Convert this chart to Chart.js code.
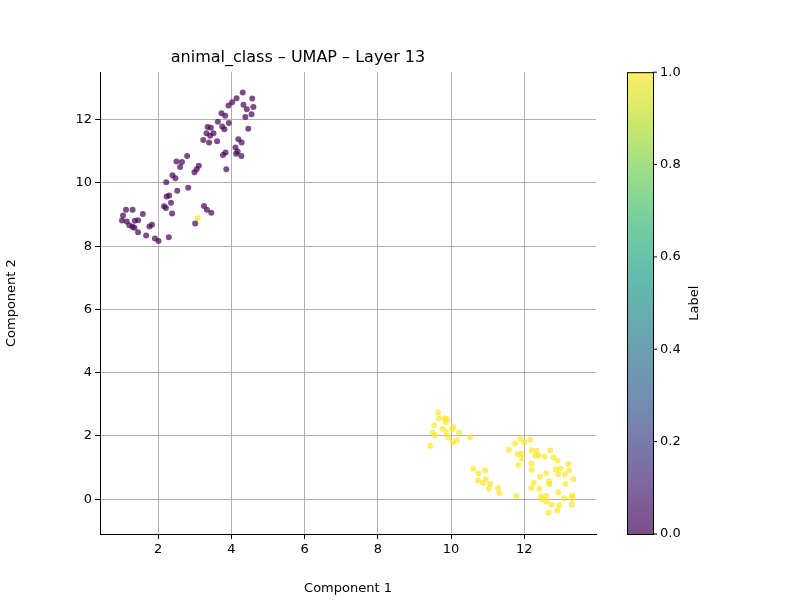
<!DOCTYPE html>
<html>
<head>
<meta charset="utf-8">
<script src="https://cdn.jsdelivr.net/npm/chart.js@4"></script>
<style>body{margin:0;background:#fff}</style>
</head>
<body>
<canvas id="c" width="800" height="600"></canvas>
<script>
const xTicks = [2, 4, 6, 8, 10, 12];
const yTicks = [0, 2, 4, 6, 8, 10, 12];
const cbarTicks = ['0.0', '0.2', '0.4', '0.6', '0.8', '1.0'];

// label 0 (purple)
const class0 = [[4.31,12.86],[4.14,12.68],[4.57,12.67],[3.92,12.45],[4.02,12.55],[4.33,12.47],[4.42,12.33],[4.6,12.4],
[4.55,12.17],[4.38,12.08],[3.73,12.2],[3.83,12.12],[3.63,11.93],[3.93,11.89],[3.75,11.78],[3.81,11.7],[3.35,11.77],
[3.44,11.74],[4.46,11.71],[3.32,11.57],[3.51,11.57],[3.42,11.49],[3.23,11.36],[3.39,11.28],[3.61,11.32],[4.19,11.38],
[4.28,11.28],[4.11,11.12],[4.17,10.99],[3.84,10.96],[3.77,10.88],[4.13,10.92],[4.27,10.85],[3.86,10.43],[2.79,10.85],
[2.5,10.68],[2.65,10.66],[2.6,10.5],[3.11,10.54],[3.05,10.43],[2.99,10.34],[2.39,10.24],[2.47,10.15],[2.22,10.02],
[2.82,9.85],[2.52,9.75],[2.3,9.6],[2.23,9.57],[2.35,9.37],[2.16,9.26],[2.21,9.21],[2.38,9.03],[3.25,9.27],[3.33,9.15],
[3.45,9.06],[3.01,8.72],[1.12,9.15],[1.3,9.15],[1.04,8.97],[1.58,9.02],[1.01,8.81],[1.14,8.78],[1.36,8.8],[1.45,8.82],
[1.21,8.66],[1.3,8.61],[1.35,8.58],[1.83,8.68],[1.76,8.62],[1.45,8.44],[1.67,8.34],[1.91,8.24],[2.01,8.16],[2.29,8.28]];

// label 1 (yellow)
const class1 = [[3.08,8.89],[9.65,2.74],[9.67,2.55],[9.83,2.56],[9.89,2.53],[9.86,2.44],[9.54,2.34],[9.77,2.22],[9.87,2.12],
[10.06,2.28],[10.03,2.21],[10.22,2.11],[9.5,2.1],[9.56,2.02],[9.92,1.95],[10.16,1.86],[10.05,1.8],[10.52,1.97],[9.43,1.69],
[11.89,1.92],[12.16,1.88],[12.0,1.8],[11.75,1.76],[11.58,1.56],[11.82,1.42],[11.93,1.44],[11.94,1.28],[11.84,1.08],
[12.2,1.55],[12.34,1.53],[12.3,1.37],[12.39,1.38],[12.56,1.34],[12.71,1.54],[12.8,1.32],[12.9,1.22],[12.2,1.13],
[13.21,1.11],[12.2,0.92],[12.86,0.94],[12.99,0.97],[13.22,0.91],[12.6,0.82],[12.93,0.79],[13.11,0.79],[12.43,0.71],
[13.34,0.63],[12.68,0.57],[12.26,0.52],[12.69,0.47],[13.12,0.48],[12.19,0.35],[12.41,0.33],[12.93,0.21],[12.45,0.09],
[12.6,0.1],[12.49,0],[13.31,0.12],[13.31,0.03],[13.1,0.03],[12.61,-0.07],[12.75,-0.17],[12.96,-0.19],[13.3,-0.17],
[12.9,-0.36],[12.66,-0.43],[11.78,0.1],[10.61,0.96],[10.75,0.82],[10.93,0.91],[10.74,0.59],[10.87,0.51],[10.95,0.63],
[11.07,0.48],[11.03,0.33],[11.28,0.35],[11.32,0.2]];

const viridis = ['#440154','#482878','#3e4989','#31688e','#26828e','#1f9e89','#35b779','#6ece58','#b5de2b','#fde725'];

const toPts = a => a.map(p => ({x: p[0], y: p[1]}));

const colorbar = {
  id: 'colorbar',
  afterDraw(chart) {
    const ctx = chart.ctx, a = chart.chartArea;
    const x0 = 627, w = 26, top = a.top, bot = a.bottom;
    const g = ctx.createLinearGradient(0, bot, 0, top);
    viridis.forEach((c, i) => g.addColorStop(i / (viridis.length - 1), c));
    ctx.save();
    ctx.fillStyle = '#fff';
    ctx.fillRect(x0, top, w, bot - top);
    ctx.globalAlpha = 0.7;
    ctx.fillStyle = g;
    ctx.fillRect(x0, top, w, bot - top);
    ctx.globalAlpha = 1;
    ctx.strokeStyle = '#000';
    ctx.lineWidth = 1;
    ctx.strokeRect(x0 + 0.5, top + 0.5, w, bot - top);
    ctx.fillStyle = '#000';
    ctx.font = '13px "DejaVu Sans"';
    ctx.textBaseline = 'middle';
    cbarTicks.forEach((t, i) => {
      const y = bot - (bot - top) * i / (cbarTicks.length - 1);
      ctx.beginPath(); ctx.moveTo(x0 + w, y); ctx.lineTo(x0 + w + 4, y); ctx.stroke();
      ctx.fillText(t, x0 + w + 7, y);
    });
    ctx.translate(695, (top + bot) / 2);
    ctx.rotate(-Math.PI / 2);
    ctx.textAlign = 'center';
    ctx.fillText('Label', 0, 0);
    ctx.restore();
  }
};

const tickFont = {family: 'DejaVu Sans', size: 13};

new Chart(document.getElementById('c'), {
  type: 'scatter',
  data: {
    datasets: [
      {data: toPts(class0), backgroundColor: 'rgba(68,1,84,0.7)', borderWidth: 0, pointRadius: 3},
      {data: toPts(class1), backgroundColor: 'rgba(253,231,37,0.7)', borderWidth: 0, pointRadius: 3}
    ]
  },
  options: {
    responsive: false,
    animation: false,
    devicePixelRatio: 1,
    layout: {padding: {right: 204, left: 0, top: 0, bottom: 0}},
    plugins: {
      legend: {display: false},
      tooltip: {enabled: false},
      title: {display: true, text: 'animal_class – UMAP – Layer 13', color: '#000',
        font: {family: 'DejaVu Sans', size: 16, weight: 'normal'}, padding: {top: 48, bottom: 5}}
    },
    scales: {
      x: {
        type: 'linear', min: 0.41, max: 13.96,
        afterBuildTicks: s => { s.ticks = xTicks.map(v => ({value: v})); },
        afterFit: s => { s.height = 66; },
        ticks: {color: '#000', font: tickFont, maxRotation: 0},
        grid: {color: '#b0b0b0', tickColor: '#000', tickLength: 5},
        border: {color: '#000'},
        title: {display: true, text: 'Component 1', color: '#000', font: tickFont, padding: {top: 4}}
      },
      y: {
        type: 'linear', min: -1.1, max: 13.5,
        afterBuildTicks: s => { s.ticks = yTicks.map(v => ({value: v})); },
        afterFit: s => { s.width = 100; },
        ticks: {color: '#000', font: tickFont},
        grid: {color: '#b0b0b0', tickColor: '#000', tickLength: 5},
        border: {color: '#000'},
        title: {display: true, text: 'Component 2', color: '#000', font: tickFont}
      }
    }
  },
  plugins: [colorbar]
});
</script>
</body>
</html>
